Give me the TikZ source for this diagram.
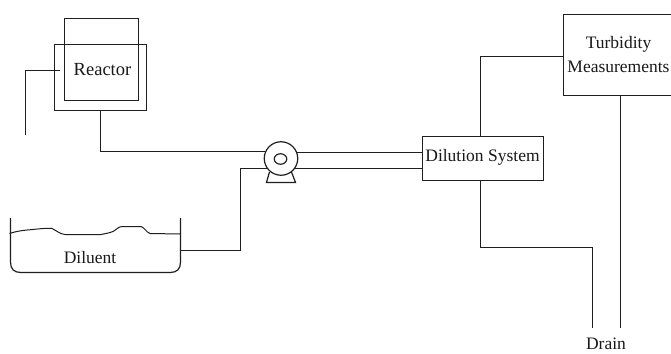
\documentclass[tikz,border=0pt]{standalone}
\usepackage{fontspec}
\usetikzlibrary{shapes.geometric}
\setmainfont{Liberation Serif}
\tikzset{
  ln/.style={line width=1.2pt,draw=black!88,line join=miter},
  boxn/.style={ln,rectangle,inner sep=0pt,anchor=center},
  lbl/.style={inner sep=0pt,text=black!90,font=\fontsize{17.5}{24}\selectfont,align=center}
}
\begin{document}
\begin{tikzpicture}[x=1pt,y=-1pt]
\clip (0,0) rectangle (671,353);
\useasboundingbox (0,0) rectangle (671,353);
\fill[white] (0,0) rectangle (671,353);
% reactor
\node[boxn,minimum width=92pt,minimum height=66pt] (jacket) at (100.5,77.5) {};
\node[boxn,minimum width=74pt,minimum height=82pt] (vessel) at (101.5,59.5) {};
\node[lbl,font=\fontsize{18.5}{24}\selectfont] (reactorlabel) at (102.5,70) {Reactor};
\coordinate (stubin) at (60,70.5);
\coordinate (stubend) at (25.5,135);
\draw[ln] (stubin) -| (stubend);
% pump
\node[ln,circle,minimum size=33.5pt,inner sep=0pt] (pump) at (281,158.5) {};
\node[ln,ellipse,minimum width=12.5pt,minimum height=10.5pt,inner sep=0pt] (impeller) at (280.5,159) {};
\coordinate (baseA) at (269.5,172);
\coordinate (baseB) at (266.5,182.5);
\coordinate (baseC) at (295.5,182.5);
\coordinate (baseD) at (291.5,172);
\draw[ln] (baseA) -- (baseB) -- (baseC) -- (baseD);
% dilution
\node[boxn,minimum width=121pt,minimum height=44pt] (dilution) at (483,158.5) {};
\node[lbl] (dilutionlabel) at (482.5,157.5) {Dilution System};
% turbidity
\node[boxn,lbl,draw=black!88,minimum width=110pt,minimum height=81pt] (turbidity) at (618.5,55) {Turbidity\\Measurements};
% drain
\node[lbl] (drain) at (606,343.5) {Drain};
\coordinate (drainin) at (592.5,328);
\coordinate (drainout) at (620.5,328);
\coordinate (dilutionx) at (480.5,247.5);
\coordinate (turbport) at (500,56.5);
\coordinate (lowerbend) at (240.5,200);
% tank
\coordinate (tankTL) at (10.5,218);
\coordinate (tankTR) at (180.5,218);
\draw[ln] (tankTL) -- (10.5,262) .. controls (10.5,269) and (14,272.5) .. (21,272.5) -- (170,272.5) .. controls (177,272.5) and (180.5,269) .. (180.5,262) -- (tankTR);
\draw[ln,line width=1pt] (9.5,233.5) .. controls (14,232) and (18,231) .. (27,230) .. controls (35,229.5) and (42,228) .. (52,228.5) .. controls (57,231) and (60,234) .. (65,234.5) -- (101,234.5) .. controls (108,233) and (113,232.5) .. (116,229.5) .. controls (119,227) and (120,226.5) .. (124,226.5) -- (141,226.5) .. controls (145,228) and (146,232) .. (150,233.5) -- (180,234);
\node[lbl] (diluentlabel) at (90,257.5) {Diluent};
\coordinate (tankport) at (180.5,250.5);
% connectors
\draw[ln] (jacket.south) |- (pump.155.3);
\draw[ln] (pump.21) -- (pump.21 -| dilution.west);
\draw[ln] (pump.-36.7) -- (pump.-36.7 -| dilution.west);
\draw[ln] (tankport) -| (lowerbend) |- (pump.216.7);
\draw[ln] (dilutionx |- dilution.north) |- (turbidity.west |- turbport);
\draw[ln] (dilutionx |- dilution.south) -- (dilutionx) -| (drainin);
\draw[ln] (drainout |- turbidity.south) -- (drainout);
\end{tikzpicture}
\end{document}
